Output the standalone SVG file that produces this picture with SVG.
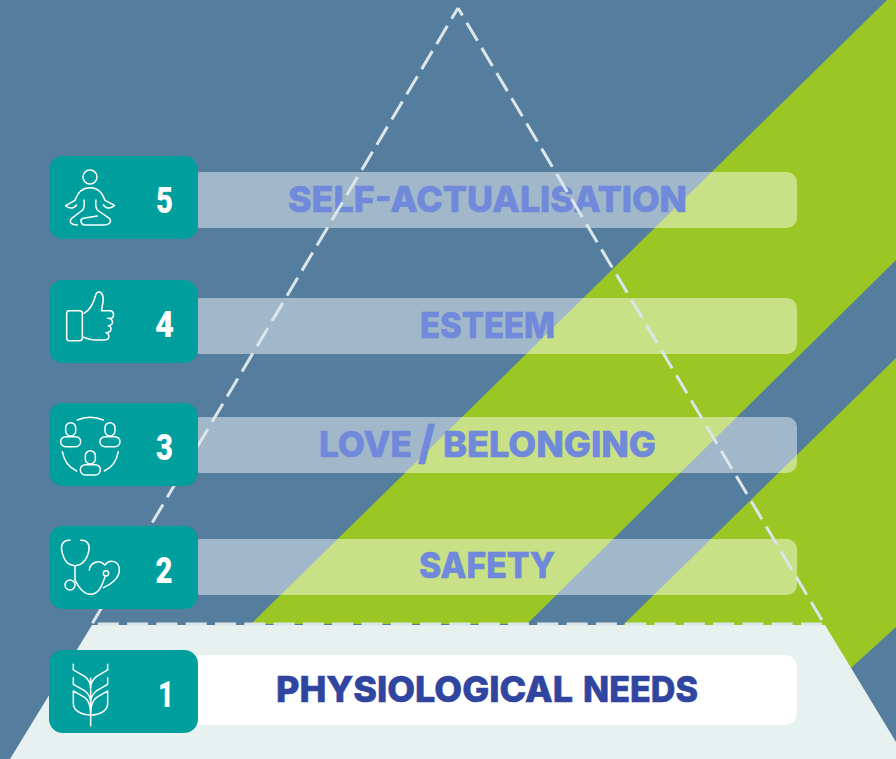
<svg xmlns="http://www.w3.org/2000/svg" width="896" height="759" viewBox="0 0 896 759">
<style>
.bar{fill:#fff;fill-opacity:.45}
.tile{fill:#009e9d}
.lab{font-family:"Inter","Liberation Sans",sans-serif;font-weight:800;font-size:36px;fill:#7189da;stroke:#7189da;stroke-width:.6}
.dark{fill:#2f459f;stroke:#2f459f}
.num{font-family:"Roboto","Liberation Sans",sans-serif;font-weight:900;font-size:36px;fill:#fff}
.ic{fill:none;stroke:#fff;stroke-width:4.5;stroke-linecap:round;stroke-linejoin:round}
.dash{fill:none;stroke:#dbe6ea;stroke-width:3;stroke-dasharray:21 8.3}
</style>
<rect width="896" height="759" fill="#557e9e"/>
<g id="bands" fill="#9bc724">
<polygon points="887,0 896,0 896,260 527,624 251,624"/>
<polygon points="896,358 624,624 590,658 851,668 896,627"/>
</g>
<polygon id="base" points="92,625 825,625 896,742 896,759 10,759" fill="#e7f1ef"/>
<g id="level-bars">
<rect class="bar" x="190" y="172" width="607" height="56" rx="10"/>
<rect class="bar" x="190" y="298" width="607" height="56" rx="10"/>
<rect class="bar" x="190" y="417" width="607" height="56" rx="10"/>
<rect class="bar" x="190" y="539" width="607" height="56" rx="10"/>
<rect x="190" y="655" width="607" height="70" rx="12" fill="#fff"/>
</g>
<g id="labels">
<text class="lab" x="288" y="212" textLength="399" lengthAdjust="spacingAndGlyphs">SELF-ACTUALISATION</text>
<text class="lab" x="420" y="338" textLength="135" lengthAdjust="spacingAndGlyphs">ESTEEM</text>
<text class="lab" y="457"><tspan x="319" textLength="93" lengthAdjust="spacingAndGlyphs">LOVE</tspan> <tspan x="418" y="459" style="font-size:46px" textLength="17" lengthAdjust="spacingAndGlyphs">/</tspan> <tspan x="443" y="457" textLength="213" lengthAdjust="spacingAndGlyphs">BELONGING</tspan></text>
<text class="lab" x="419" y="578" textLength="136" lengthAdjust="spacingAndGlyphs">SAFETY</text>
<text class="lab dark" y="702"><tspan x="276" textLength="297" lengthAdjust="spacingAndGlyphs">PHYSIOLOGICAL</tspan> <tspan x="583" textLength="115" lengthAdjust="spacingAndGlyphs">NEEDS</tspan></text>
</g>
<g id="connectors">
<path class="dash" d="M458 8L823 622" stroke-dashoffset="12.2"/>
<path class="dash" d="M458 8L92 624" stroke-dashoffset="8.5"/>
<path class="dash" d="M822 624H92"/>
</g>
<g id="node-5">
<rect class="tile" x="49" y="156" width="149" height="83" rx="14"/>
<g transform="translate(40 150) scale(.3333)"><circle class="ic" cx="150" cy="81" r="21"/>
<path class="ic" d="M105 151C112 130 125 113 150 113C175 113 188 130 195 151L224 166C215 176 200 178 190 165M105 151L77 167C85 176 100 178 110 165M132 150C134 165 134 172 128 180L95 205C85 218 95 225 112 225M168 150C166 165 166 172 172 180L208 205C218 218 205 225 190 225H135C122 225 118 208 130 205L172 198"/></g>
<text class="num" x="156" y="213" textLength="17" lengthAdjust="spacingAndGlyphs">5</text>
</g>
<g id="node-4">
<rect class="tile" x="49" y="280" width="149" height="83" rx="14"/>
<g transform="translate(40 150) scale(.3333)"><rect class="ic" x="80" y="482" width="47" height="90" rx="8"/>
<path class="ic" d="M132 490C150 480 160 465 168 432C172 422 186 424 189 440C192 455 185 470 185 482H212C222 484 224 500 215 505H203M203 505C222 506 222 525 205 527M205 527C218 532 215 548 198 548M198 548C210 552 210 570 195 570H165C150 570 140 565 130 562"/></g>
<text class="num" x="155" y="337" textLength="19" lengthAdjust="spacingAndGlyphs">4</text>
</g>
<g id="node-3">
<rect class="tile" x="49" y="403" width="149" height="83" rx="14"/>
<g transform="translate(40 395) scale(.3333)">
<rect class="ic" x="77" y="83" width="30" height="40" rx="15"/><rect class="ic" x="62" y="125" width="60" height="30" rx="15"/>
<rect class="ic" x="195" y="83" width="30" height="40" rx="15"/><rect class="ic" x="180" y="125" width="60" height="30" rx="15"/>
<rect class="ic" x="136" y="167" width="30" height="40" rx="15"/><rect class="ic" x="121" y="209" width="60" height="31" rx="15"/>
<path class="ic" d="M112 75Q150 58 190 75M67 170C72 198 88 218 110 228M235 170C230 198 215 218 193 228"/></g>
<text class="num" x="156" y="460" textLength="17" lengthAdjust="spacingAndGlyphs">3</text>
</g>
<g id="node-2">
<rect class="tile" x="49" y="526" width="149" height="83" rx="14"/>
<g transform="translate(40 395) scale(.3333)">
<path class="ic" d="M90 436C70 434 62 450 65 465C70 495 85 512 105 512C125 512 142 495 147 465C150 450 142 434 122 436M105 512V555"/>
<circle class="ic" cx="90" cy="570" r="15"/>
<path class="ic" d="M105 555C118 582 132 598 152 598C175 598 185 575 195 545"/>
<circle class="ic" cx="198" cy="535" r="8"/>
<path class="ic" d="M148 525C150 505 175 490 195 510C210 490 238 498 238 525C238 548 215 568 190 578"/></g>
<text class="num" x="155.500" y="583" textLength="17" lengthAdjust="spacingAndGlyphs">2</text>
</g>
<g id="node-1">
<rect class="tile" x="49" y="650" width="149" height="83" rx="14"/>
<g transform="translate(40 395) scale(.3333)">
<path class="ic" d="M152 850V992M100 808V825L135 845C148 855 152 865 152 880C152 865 156 855 169 845L203 825V808M100 848V868L135 888C148 898 152 910 152 925C152 910 156 898 169 888L203 868V848M100 888V925C100 948 125 960 152 960C179 960 203 948 203 925V888L169 908C156 918 152 940 152 960C152 940 148 918 135 908L100 888"/></g>
<text class="num" x="158" y="707" textLength="16" lengthAdjust="spacingAndGlyphs">1</text>
</g>
</svg>
